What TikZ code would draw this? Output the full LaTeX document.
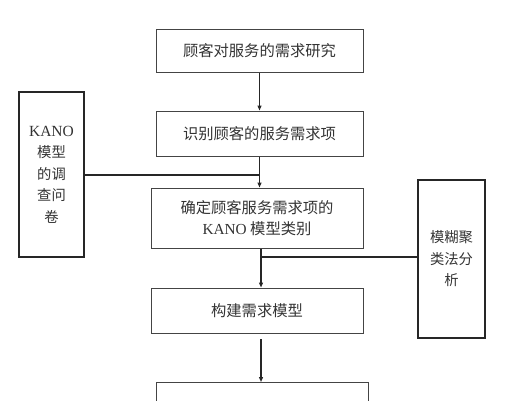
\documentclass[tikz,border=0pt]{standalone}
\usepackage{fontspec}
\setmainfont{Liberation Serif}
\newfontfamily\cjk{Noto Sans CJK SC}
\usetikzlibrary{arrows.meta}
\definecolor{txt}{HTML}{333333}
\definecolor{edge}{HTML}{444444}
\begin{document}
\begin{tikzpicture}[x=1pt,y=-1pt,
  box/.style={draw=edge,line width=1pt,inner sep=0pt,text=txt,align=center,font=\cjk\fontsize{15.3}{21}\selectfont},
  side/.style={draw=black!85,line width=1.8pt,inner sep=0pt,text=txt,align=center,font=\cjk\fontsize{14.3}{21.5}\selectfont},
  link/.style={draw=black!85,line width=1.2pt},
  arr/.style={link,-{Triangle[length=5pt,width=4pt]}}]
\useasboundingbox (0,0) rectangle (524,400);
\clip (0,0) rectangle (524,400);
\node[box,minimum width=207pt,minimum height=43pt] (b1) at (259.5,50.5) {顾客对服务的需求研究};
\node[box,minimum width=207pt,minimum height=45pt] (b2) at (259.5,133.5) {识别顾客的服务需求项};
\node[box,minimum width=212pt,minimum height=60pt] (b3) at (257,218) {确定顾客服务需求项的\\{\rmfamily KANO} 模型类别};
\node[box,minimum width=212pt,minimum height=45pt] (b4) at (257,310.5) {构建需求模型};
\node[box,minimum width=212pt,minimum height=40pt,anchor=north] (b5) at (262,382) {};
\node[side,minimum width=65pt,minimum height=165pt] (l) at (51.5,174.5) {{\rmfamily\fontsize{15.5}{21.5}\selectfont KANO}\\模型\\的调\\查问\\卷};
\node[side,minimum width=67pt,minimum height=158pt] (r) at (451.5,259) {模糊聚\\类法分\\析};
\coordinate (j1) at (259.5,175);
\coordinate (j2) at (261,257);
\coordinate (s4) at (261,339);
\draw[arr] (b1.south) -- (b2.north);
\draw[arr] (b2.south) -- (j1) -- (b3.north -| j1);
\draw[link] (l.east |- j1) -- (j1);
\draw[arr] (b3.south -| j2) -- (j2) -- (b4.north -| j2);
\draw[link] (r.west |- j2) -- (j2);
\draw[arr] (s4) -- (b5.north -| s4);
\end{tikzpicture}
\end{document}
